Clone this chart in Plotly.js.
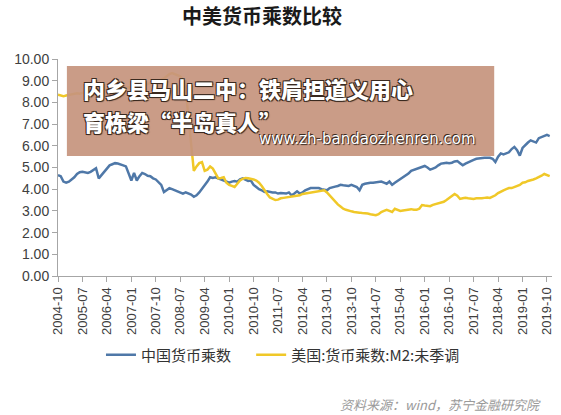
<!DOCTYPE html>
<html>
<head>
<meta charset="utf-8">
<script src="https://cdn.plot.ly/plotly-3.0.1.min.js"></script>
<style>html,body{margin:0;padding:0;background:#fff;}#chart{width:561px;height:415px;}</style>
</head>
<body>
<div id="chart"></div>
<script>
// Monthly categories 2004-10 .. 2019-11
var startYear = 2004, startMonth = 10, nMonths = 182;
var months = [];
for (var i = 0; i < nMonths; i++) {
  var mm = startMonth - 1 + i;
  var y = startYear + Math.floor(mm / 12);
  var m = (mm % 12) + 1;
  months.push(y + '-' + (m < 10 ? '0' + m : '' + m));
}

var tickLabels = ['2004-10','2005-07','2006-04','2007-01','2007-10','2008-07','2009-04','2010-01','2010-10','2011-07','2012-04','2013-01','2013-10','2014-07','2015-04','2016-01','2016-10','2017-07','2018-04','2019-01','2019-10'];

var chinaName = '中国货币乘数';
var usName = '美国:货币乘数:M2:未季调';

var chinaMultiplier = [
  4.65, 4.60, 4.35, 4.30, 4.35, 4.45, 4.55, 4.70, 4.78, 4.80, 4.78, 4.75,
  4.80, 4.90, 4.97, 4.50, 4.65, 4.80, 4.95, 5.10, 5.15, 5.20, 5.18, 5.15,
  5.10, 5.05, 4.75, 4.40, 4.75, 4.40, 4.60, 4.75, 4.70, 4.62, 4.60, 4.50,
  4.45, 4.30, 4.20, 3.87, 3.95, 4.05, 4.00, 3.95, 3.90, 3.85, 3.80, 3.85,
  3.80, 3.75, 3.65, 3.72, 3.85, 4.00, 4.20, 4.35, 4.55, 4.52, 4.55, 4.50,
  4.45, 4.40, 4.35, 4.30, 4.35, 4.38, 4.35, 4.45, 4.50, 4.45, 4.38, 4.40,
  4.20, 4.10, 4.00, 3.95, 3.87, 3.90, 3.87, 3.85, 3.85, 3.80, 3.82, 3.80,
  3.80, 3.85, 3.72, 3.80, 3.90, 3.80, 3.85, 3.95, 4.00, 4.05, 4.05, 4.05,
  4.05, 4.00, 3.98, 3.95, 4.05, 4.10, 4.12, 4.15, 4.20, 4.18, 4.15, 4.15,
  4.20, 4.15, 4.10, 3.95, 4.20, 4.25, 4.28, 4.30, 4.30, 4.32, 4.33, 4.35,
  4.30, 4.25, 4.35, 4.20, 4.30, 4.38, 4.45, 4.55, 4.65, 4.72, 4.85, 4.90,
  4.95, 5.00, 5.05, 5.07, 5.00, 4.90, 4.95, 5.00, 5.10, 5.18, 5.20, 5.22,
  5.20, 5.22, 5.28, 5.30, 5.20, 5.10, 5.18, 5.25, 5.30, 5.35, 5.40, 5.42,
  5.45, 5.45, 5.45, 5.45, 5.40, 5.25, 5.50, 5.65, 5.60, 5.65, 5.70, 5.85,
  5.95, 5.80, 5.55, 5.90, 6.05, 6.15, 6.25, 6.20, 6.15, 6.35, 6.40, 6.45,
  6.50, 6.45
];

var usMultiplier = [
  8.35, 8.30, 8.28, 8.32, 8.35, 8.38, 8.40, 8.42, 8.40, 8.45, 8.48, 8.45,
  8.50, 8.48, 8.52, 8.55, 8.50, 8.55, 8.60, 8.62, 8.58, 8.60, 8.65, 8.62,
  8.65, 8.68, 8.70, 8.66, 8.72, 8.75, 8.78, 8.75, 8.80, 8.85, 8.90, 8.88,
  8.95, 9.00, 9.05, 9.10, 9.20, 9.30, 9.35, 9.28, 9.25, 9.20, 9.05, 8.60,
  7.40, 6.00, 4.85, 5.05, 5.20, 5.25, 4.85, 4.90, 5.05, 4.95, 4.70, 4.50,
  4.52, 4.55, 4.30, 4.20, 4.15, 4.10, 4.25, 4.40, 4.48, 4.52, 4.50, 4.48,
  4.45, 4.40, 4.30, 4.15, 3.95, 3.78, 3.62, 3.55, 3.50, 3.52, 3.58, 3.60,
  3.62, 3.65, 3.68, 3.70, 3.70, 3.72, 3.78, 3.80, 3.82, 3.85, 3.88, 3.90,
  3.92, 3.95, 3.95, 3.85, 3.70, 3.55, 3.40, 3.30, 3.20, 3.10, 3.05, 3.00,
  2.98, 2.95, 2.95, 2.92, 2.90, 2.90, 2.88, 2.85, 2.82, 2.80, 2.85, 2.95,
  3.00, 3.05, 3.00, 2.95, 3.10, 3.05, 3.00, 3.02, 3.05, 3.05, 3.08, 3.05,
  3.05, 3.10, 3.27, 3.25, 3.22, 3.22, 3.28, 3.32, 3.35, 3.38, 3.42, 3.50,
  3.60, 3.72, 3.78, 3.70, 3.55, 3.58, 3.60, 3.58, 3.55, 3.55, 3.58, 3.57,
  3.58, 3.60, 3.62, 3.60, 3.65, 3.72, 3.82, 3.90, 3.95, 4.00, 4.05, 4.05,
  4.10, 4.12, 4.20, 4.30, 4.32, 4.38, 4.40, 4.45, 4.50, 4.55, 4.62, 4.70,
  4.65, 4.60
];

var titleText = '中美货币乘数比较';
var sourceText = '资料来源：wind，苏宁金融研究院';
var overlayLine1 = '内乡县马山二中：铁肩担道义用心';
var overlayLine2 = '育栋梁“半岛真人”';
var overlayUrl = 'www.zh-bandaozhenren.com';

var cjk = '"Noto Sans CJK SC", "Noto Sans", sans-serif';
var outline = '1px 1px 1px #3a2a20, -1px -1px 0 #3a2a20, 1px -1px 0 #3a2a20, -1px 1px 0 #3a2a20';

var traces = [
  {x: months, y: chinaMultiplier, name: chinaName, type: 'scatter', mode: 'lines', legend: 'legend',
   line: {color: '#4f78a8', width: 2.5}},
  {x: months, y: usMultiplier, name: usName, type: 'scatter', mode: 'lines', legend: 'legend2',
   line: {color: '#f0c828', width: 2.5}}
];

var legendFont = {family: cjk, size: 15, color: '#333333'};

var layout = {
  width: 561, height: 415,
  paper_bgcolor: '#ffffff', plot_bgcolor: '#ffffff',
  margin: {l: 58, r: 9, t: 59, b: 139},
  title: {text: '<b>' + titleText + '</b>', x: 0.467, xanchor: 'center', y: 0.958, yanchor: 'middle',
          font: {family: cjk, size: 20, color: '#1a1a1a'}},
  showlegend: true,
  legend: {orientation: 'h', x: 0.087, xanchor: 'left', y: -0.364, yanchor: 'middle',
           font: legendFont, itemwidth: 30, bgcolor: 'rgba(0,0,0,0)'},
  legend2: {orientation: 'h', x: 0.391, xanchor: 'left', y: -0.364, yanchor: 'middle',
           font: legendFont, itemwidth: 30, bgcolor: 'rgba(0,0,0,0)'},
  xaxis: {type: 'category', range: [0, 181.85], tickmode: 'array', tickvals: tickLabels, ticktext: tickLabels,
          tickangle: -90, ticks: 'outside', ticklen: 5, tickcolor: '#a6a6a6', showline: true, linecolor: '#a6a6a6',
          linewidth: 1, showgrid: false, zeroline: false,
          tickfont: {family: 'Liberation Sans, Arial, sans-serif', size: 13, color: '#404040'}},
  yaxis: {range: [0, 10], dtick: 1, tick0: 0, tickformat: '.2f', ticks: 'outside', ticklen: 5, tickcolor: '#a6a6a6',
          showline: true, linecolor: '#a6a6a6', linewidth: 1, showgrid: false, zeroline: false,
          tickfont: {family: 'Liberation Sans, Arial, sans-serif', size: 14, color: '#404040'}},
  shapes: [
    {type: 'rect', xref: 'paper', yref: 'paper', x0: 0.018, x1: 0.883, y0: 0.553, y1: 0.968,
     fillcolor: 'rgba(198,148,126,0.93)', line: {width: 0}, layer: 'above'}
  ],
  annotations: [
    {text: overlayLine1, xref: 'paper', yref: 'paper', x: 0.047, y: 0.866,
     xanchor: 'left', yanchor: 'middle', showarrow: false,
     font: {family: cjk, size: 22, color: '#ffffff', weight: 900, shadow: outline}},
    {text: overlayLine2, xref: 'paper', yref: 'paper', x: 0.047, y: 0.716,
     xanchor: 'left', yanchor: 'middle', showarrow: false,
     font: {family: cjk, size: 22, color: '#ffffff', weight: 900, shadow: outline}},
    {text: overlayUrl, xref: 'paper', yref: 'paper', x: 0.85, y: 0.632, xanchor: 'right', yanchor: 'middle',
     showarrow: false, font: {family: 'DejaVu Sans, sans-serif', size: 15, color: '#ffffff', shadow: '1px 1px 1px #3a2a20, -1px -1px 0 #3a2a20'}},
    {text: '<i>' + sourceText + '</i>', xref: 'paper', yref: 'paper', x: 0.982, y: -0.59, xanchor: 'right', yanchor: 'middle',
     showarrow: false, font: {family: cjk, size: 13, color: '#9a9a9a'}}
  ]
};

Plotly.newPlot('chart', traces, layout, {displayModeBar: false, staticPlot: true});
</script>
</body>
</html>
